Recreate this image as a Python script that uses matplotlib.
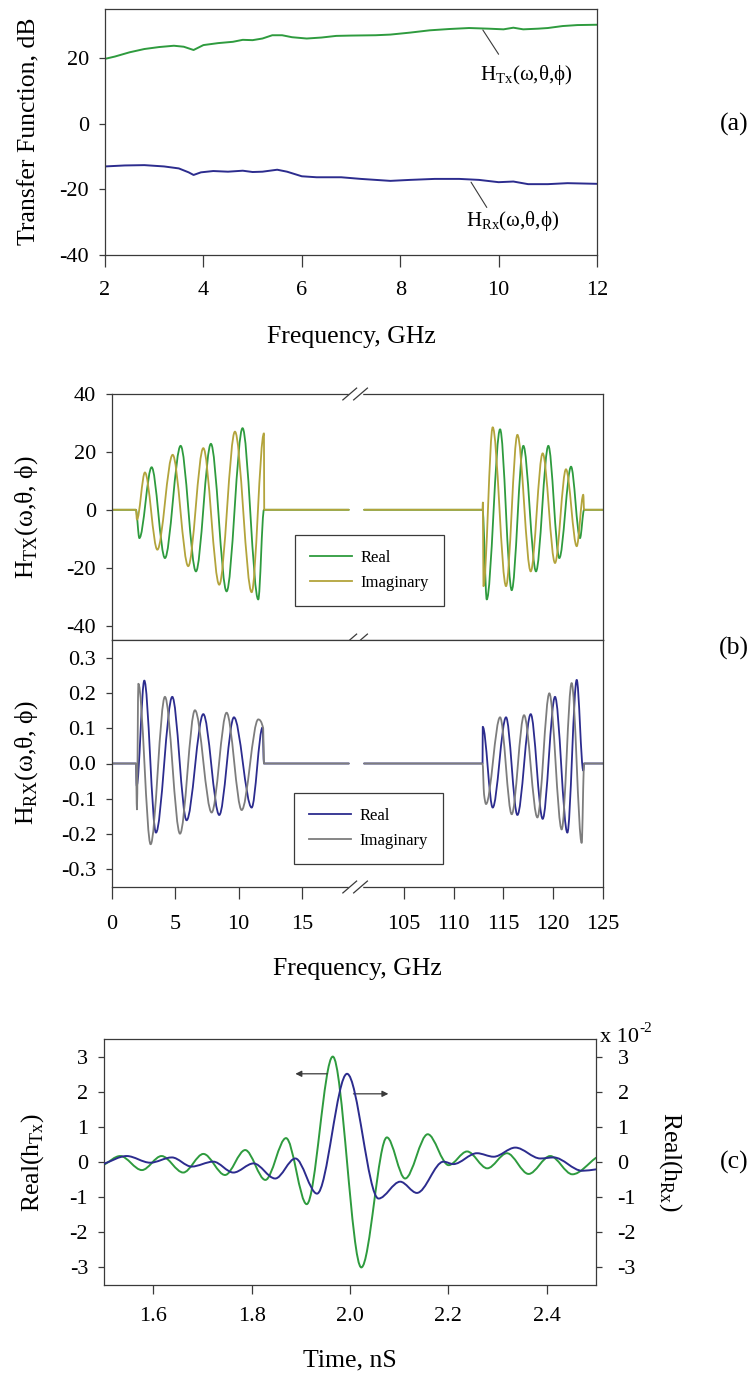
import numpy as np
import matplotlib
matplotlib.use('Agg')
import matplotlib.pyplot as plt
from matplotlib.path import Path
from matplotlib.patches import PathPatch
from matplotlib.lines import Line2D

plt.rcParams['font.family'] = ['Liberation Serif', 'DejaVu Serif']
plt.rcParams['mathtext.fontset'] = 'custom'
plt.rcParams['mathtext.rm'] = 'Liberation Serif'
plt.rcParams['axes.unicode_minus'] = False

GREEN = '#2e9b3e'
OLIVE = '#b3a43c'
BLUE = '#2c2c8e'
GRAY = '#7d7d7d'
EDGE = '#3a3a3a'

#%% (a) transfer function magnitude, dB
freq_tx = [2.0, 2.2, 2.5, 2.8, 3.1, 3.4, 3.6, 3.8, 4.0, 4.3, 4.6, 4.8, 5.0, 5.2, 5.4, 5.6,
           5.8, 6.1, 6.4, 6.7, 7.0, 7.5, 7.8, 8.2, 8.6, 9.0, 9.4, 9.8, 10.1, 10.3, 10.5,
           10.8, 11.0, 11.3, 11.6, 12.0]
db_tx = [19.8, 20.5, 21.8, 22.8, 23.4, 23.8, 23.5, 22.5, 24.0, 24.6, 25.0, 25.6, 25.5, 26.0,
         27.0, 27.0, 26.4, 26.0, 26.3, 26.8, 26.9, 27.0, 27.2, 27.8, 28.5, 28.9, 29.2, 29.0,
         28.8, 29.3, 28.8, 29.0, 29.2, 29.8, 30.1, 30.2]
freq_rx = [2.0, 2.4, 2.8, 3.2, 3.5, 3.7, 3.8, 3.95, 4.2, 4.5, 4.8, 5.0, 5.2, 5.5, 5.7, 6.0,
           6.3, 6.8, 7.2, 7.8, 8.2, 8.7, 9.2, 9.6, 10.0, 10.3, 10.6, 11.0, 11.4, 12.0]
db_rx = [-13.0, -12.7, -12.6, -13.0, -13.6, -14.8, -15.6, -14.8, -14.4, -14.6, -14.3, -14.7,
         -14.6, -14.0, -14.6, -16.0, -16.3, -16.3, -16.8, -17.4, -17.1, -16.8, -16.8, -17.1,
         -17.8, -17.6, -18.4, -18.4, -18.1, -18.3]

#%% (b) real / imaginary parts, read at peaks and troughs (nan = axis break)
nan = np.nan
tx_re_f = [0, 1.89, 2.16, 3.13, 4.18, 5.42, 6.63, 7.81, 9.05, 10.31, 11.55, 12.0, 18.7, nan,
           101, 112.9, 113.32, 114.66, 115.83, 117.0, 118.27, 119.51, 120.61, 121.79, 122.69, 123.1, 125]
tx_re_v = [0, 0, -9.8, 14.7, -16.7, 22.1, -21.3, 22.8, -28.2, 28.2, -31.0, 0, 0, nan,
           0, 0, -31.0, 27.8, -27.8, 22.1, -21.3, 22.1, -16.7, 14.9, -9.8, 0, 0]
tx_im_f = [0, 1.89, 1.97, 2.60, 3.58, 4.79, 6.02, 7.21, 8.47, 9.71, 11.03, 12.0, 12.02, 18.7, nan,
           101, 112.9, 112.93, 112.99, 113.92, 115.26, 116.40, 117.74, 118.94, 120.18, 121.28,
           122.36, 123.02, 123.1, 125]
tx_im_v = [0, 0, -3.4, 12.9, -13.8, 19.0, -19.5, 21.3, -25.9, 27.0, -28.5, 26.4, 0, 0, nan,
           0, 0, 2.5, -26.4, 28.5, -26.4, 25.9, -21.3, 19.5, -18.4, 14.0, -12.6, 5.2, 0, 0]

rx_re_f = [0, 1.89, 1.95, 2.55, 3.47, 4.76, 5.89, 7.21, 8.47, 9.63, 11.03, 11.89, 12.0, 18.7, nan,
           101, 112.9, 112.92, 113.92, 115.26, 116.40, 117.74, 118.94, 120.18, 121.42, 122.36,
           123.02, 123.1, 125]
rx_re_v = [0, 0, -0.063, 0.235, -0.196, 0.189, -0.161, 0.14, -0.146, 0.131, -0.125, 0.102, 0, 0, nan,
           0, 0, 0.104, -0.125, 0.131, -0.146, 0.14, -0.157, 0.189, -0.196, 0.237, -0.02, 0, 0]
rx_im_f = [0, 1.89, 1.97, 2.08, 3.05, 4.18, 5.37, 6.55, 7.87, 9.05, 10.24, 11.55, 11.94, 12.0, 18.7, nan,
           101, 112.9, 113.05, 113.25, 114.66, 115.83, 117.07, 118.41, 119.61, 120.85, 121.85,
           122.86, 123.1, 125]
rx_im_v = [0, 0, -0.13, 0.226, -0.229, 0.189, -0.199, 0.151, -0.139, 0.144, -0.132, 0.125, 0.099, 0, 0, nan,
           0, 0, -0.087, -0.115, 0.131, -0.144, 0.137, -0.153, 0.199, -0.187, 0.228, -0.225, 0, 0]

#%% (c) impulse responses (h_Rx in units of 1e-2)
t_tx = [1.5, 1.533, 1.577, 1.617, 1.661, 1.702, 1.746, 1.787, 1.828, 1.870, 1.912, 1.965, 2.023,
        2.075, 2.112, 2.158, 2.2005, 2.238, 2.279, 2.319, 2.363, 2.407, 2.452, 2.5]
h_tx = [-0.08, 0.17, -0.23, 0.17, -0.30, 0.23, -0.37, 0.34, -0.51, 0.68, -1.2, 3.0, -3.0,
        0.7, -0.47, 0.79, -0.09, 0.30, -0.18, 0.25, -0.34, 0.17, -0.35, 0.12]
t_rx = [1.5, 1.546, 1.594, 1.638, 1.678, 1.722, 1.763, 1.804, 1.848, 1.889, 1.933, 1.994, 2.058,
        2.102, 2.136, 2.19, 2.21, 2.258, 2.292, 2.336, 2.387, 2.414, 2.472, 2.5]
h_rx = [-0.05, 0.17, -0.02, 0.13, -0.13, 0.01, -0.30, -0.04, -0.47, 0.10, -0.90, 2.51, -1.04,
        -0.56, -0.88, 0.01, -0.06, 0.25, 0.15, 0.41, 0.10, 0.13, -0.25, -0.21]


def smooth_line(ax, x, y, **kw):
    # draw the read points as a smooth (monotone cubic) curve, nan splits it
    x = np.asarray(x, float)
    y = np.asarray(y, float)
    cuts = np.where(np.isnan(x))[0]
    for xs, ys in zip(np.split(x, cuts), np.split(y, cuts)):
        ok = ~np.isnan(xs)
        xs, ys = xs[ok], ys[ok]
        h = np.diff(xs)
        d = np.diff(ys) / h
        m = np.zeros_like(xs)
        m[0], m[-1] = d[0], d[-1]
        for k in range(1, len(xs) - 1):
            if d[k - 1] * d[k] > 0:
                w1 = 2 * h[k] + h[k - 1]
                w2 = h[k] + 2 * h[k - 1]
                m[k] = (w1 + w2) / (w1 / d[k - 1] + w2 / d[k])
        verts = [(xs[0], ys[0])]
        for k in range(len(h)):
            verts += [(xs[k] + h[k] / 3, ys[k] + m[k] * h[k] / 3),
                      (xs[k + 1] - h[k] / 3, ys[k + 1] - m[k + 1] * h[k] / 3),
                      (xs[k + 1], ys[k + 1])]
        codes = [Path.MOVETO] + [Path.CURVE4] * (3 * len(h))
        ax.add_patch(PathPatch(Path(verts, codes), fill=False, capstyle='round',
                               joinstyle='round', **kw))


# broken frequency axis: 0..19.2 and 100.1..125
CUT_LO, CUT_HI, K_LO, K_HI = 19.2, 100.1, 12.67, 9.96


def fwd(x):
    x = np.asarray(x, dtype=float)
    return np.where(x < 60, x * K_LO, CUT_LO * K_LO + (x - CUT_HI) * K_HI)


def inv(u):
    u = np.asarray(u, dtype=float)
    return np.where(u < CUT_LO * K_LO, u / K_LO, CUT_HI + (u - CUT_LO * K_LO) / K_HI)


def px(x0, y0, x1, y1):
    return [x0 / 750, 1 - y1 / 1376, (x1 - x0) / 750, (y1 - y0) / 1376]


def style(ax):
    for s in ax.spines.values():
        s.set_color(EDGE)
        s.set_linewidth(0.9)
    ax.tick_params(axis='x', direction='out', length=8.5, width=0.9, color=EDGE,
                   labelsize=16, pad=10, top=False)
    ax.tick_params(axis='y', direction='out', length=4.5, width=0.9, color=EDGE,
                   labelsize=16, pad=7, right=False)


def brk(ax, yfrac):
    xb = float(fwd(CUT_LO) / fwd(125))
    ax.plot([xb - 0.011, xb + 0.011], [yfrac, yfrac], color='white', lw=2.5,
            transform=ax.transAxes, clip_on=False, zorder=6)
    for off in (-0.011, 0.011):
        ax.plot([xb + off - 0.014, xb + off + 0.014], [yfrac - 0.024, yfrac + 0.024],
                color=EDGE, lw=0.9, transform=ax.transAxes, clip_on=False, zorder=7)


fig = plt.figure(figsize=(7.5, 13.76), dpi=100)


def ftext(x, y, s, **kw):
    fig.text(x / 750, 1 - y / 1376, s, ha='center', va='center', **kw)


#%% panel (a)
ax_a = fig.add_axes(px(105, 9, 597, 255))
style(ax_a)
ax_a.plot(freq_tx, db_tx, color=GREEN, lw=1.4)
ax_a.plot(freq_rx, db_rx, color=BLUE, lw=1.4)
ax_a.set_xlim(2, 12)
ax_a.set_ylim(-40, 35)
ax_a.set_xticks([2, 4, 6, 8, 10, 12])
ax_a.set_yticks([-40, -20, 0, 20])
ax_a.annotate('', xy=(9.68, 28.6), xytext=(10.0, 21.2),
              arrowprops=dict(arrowstyle='-', color=EDGE, lw=0.8, shrinkA=0, shrinkB=0))
ax_a.annotate('', xy=(9.44, -17.8), xytext=(9.76, -25.5),
              arrowprops=dict(arrowstyle='-', color=EDGE, lw=0.8, shrinkA=0, shrinkB=0))
ax_a.text(10.56, 14.8, 'H$_{\\mathregular{Tx}}$(ω,θ,ϕ)', ha='center', va='center', fontsize=15)
ax_a.text(10.29, -29.5, 'H$_{\\mathregular{Rx}}$(ω,θ,ϕ)', ha='center', va='center', fontsize=15)
ftext(351, 337, 'Frequency, GHz', fontsize=18.5)
ftext(29, 131, 'Transfer Function, dB', fontsize=18.5, rotation=90)
ftext(734, 124, '(a)', fontsize=18.5)

#%% panel (b)
ax_bt = fig.add_axes(px(112, 394, 603, 640))
ax_bb = fig.add_axes(px(112, 640, 603, 887))
for ax in (ax_bt, ax_bb):
    style(ax)
    ax.set_xscale('function', functions=(fwd, inv))
    ax.set_xlim(0, 125)
    ax.set_xticks([0, 5, 10, 15, 105, 110, 115, 120, 125])
    ax.minorticks_off()
ax_bt.tick_params(axis='x', bottom=False, labelbottom=False)
ax_bt.set_ylim(-45, 40)
ax_bt.set_yticks([-40, -20, 0, 20, 40])
ax_bb.set_ylim(-0.35, 0.35)
ax_bb.set_yticks([-0.3, -0.2, -0.1, 0.0, 0.1, 0.2, 0.3])
ax_bb.set_yticklabels(['%.1f' % v for v in ax_bb.get_yticks()])
ax_bb.tick_params(axis='x', pad=12)

smooth_line(ax_bt, tx_re_f, tx_re_v, edgecolor=GREEN, lw=1.3)
smooth_line(ax_bt, tx_im_f, tx_im_v, edgecolor=OLIVE, lw=1.3)
smooth_line(ax_bb, rx_re_f, rx_re_v, edgecolor=BLUE, lw=1.3)
smooth_line(ax_bb, rx_im_f, rx_im_v, edgecolor=GRAY, lw=1.3)

brk(ax_bt, 1.0)
brk(ax_bt, 0.0)
brk(ax_bb, 0.0)

leg_kw = dict(loc='upper left', fontsize=12, frameon=True, fancybox=False, framealpha=1,
              edgecolor=EDGE, handlelength=2.5, handletextpad=0.5, borderpad=0.9,
              labelspacing=0.55, borderaxespad=0)
lt = ax_bt.legend([Line2D([], [], color=GREEN, lw=1.3), Line2D([], [], color=OLIVE, lw=1.3)],
                  ['Real', 'Imaginary'], bbox_to_anchor=(0.373, 0.427), **leg_kw)
lt.get_frame().set_linewidth(0.9)
lb = ax_bb.legend([Line2D([], [], color=BLUE, lw=1.3), Line2D([], [], color=GRAY, lw=1.3)],
                  ['Real', 'Imaginary'], bbox_to_anchor=(0.371, 0.381), **leg_kw)
lb.get_frame().set_linewidth(0.9)

ftext(27, 517, 'H$_{\\mathregular{TX}}$(ω,θ, ϕ)', fontsize=18.5, rotation=90)
ftext(27, 763, 'H$_{\\mathregular{RX}}$(ω,θ, ϕ)', fontsize=18.5, rotation=90)
ftext(357, 969, 'Frequency, GHz', fontsize=18.5)
ftext(734, 648, '(b)', fontsize=18.5)

#%% panel (c)
ax_c = fig.add_axes(px(104, 1039, 596, 1285))
style(ax_c)
ax_c.set_xlim(1.5, 2.5)
ax_c.set_ylim(-3.5, 3.5)
ax_c.set_xticks([1.6, 1.8, 2.0, 2.2, 2.4])
ax_c.set_xticklabels(['%.1f' % v for v in ax_c.get_xticks()])
ax_c.set_yticks([-3, -2, -1, 0, 1, 2, 3])
ax_c.tick_params(axis='x', length=6.5, pad=9)
smooth_line(ax_c, t_tx, h_tx, edgecolor=GREEN, lw=1.4)

ax_c2 = ax_c.twinx()
ax_c2.set_ylim(-3.5, 3.5)
ax_c2.set_yticks([-3, -2, -1, 0, 1, 2, 3])
for s in ax_c2.spines.values():
    s.set_visible(False)
ax_c2.tick_params(axis='y', direction='out', length=4.5, width=0.9, color=EDGE,
                  labelsize=16, pad=11)
smooth_line(ax_c2, t_rx, h_rx, edgecolor=BLUE, lw=1.4)

ax_c.annotate('', xy=(1.889, 2.51), xytext=(1.954, 2.51),
              arrowprops=dict(arrowstyle='-|>', color=EDGE, lw=0.9, mutation_scale=9,
                              shrinkA=0, shrinkB=0))
ax_c.annotate('', xy=(2.078, 1.94), xytext=(2.007, 1.94),
              arrowprops=dict(arrowstyle='-|>', color=EDGE, lw=0.9, mutation_scale=9,
                              shrinkA=0, shrinkB=0))

fig.text(600 / 750, 1 - 1037 / 1376, 'x 10', ha='left', va='center', fontsize=16)
fig.text(639 / 750, 1 - 1028 / 1376, '-2', ha='left', va='center', fontsize=11)
ftext(33, 1162, 'Real(h$_{\\mathregular{Tx}}$)', fontsize=18.5, rotation=90)
ftext(670, 1162, 'Real(h$_{\\mathregular{Rx}}$)', fontsize=18.5, rotation=270)
ftext(350, 1360, 'Time, nS', fontsize=18.5)
ftext(734, 1162, '(c)', fontsize=18.5)

fig.savefig('out.png', dpi=100)
